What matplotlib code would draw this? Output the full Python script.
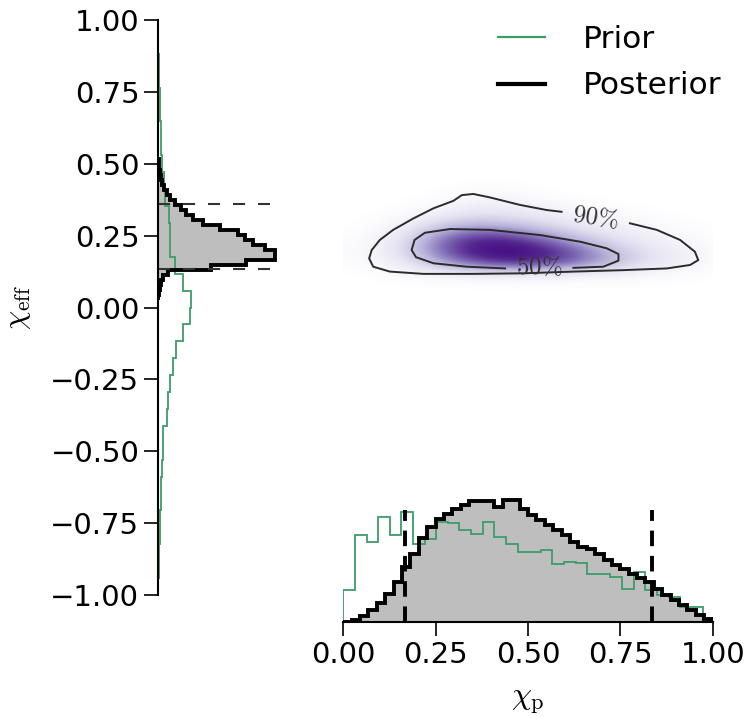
import numpy as np
import matplotlib
matplotlib.use("Agg")
import matplotlib.pyplot as plt
from matplotlib.lines import Line2D
from matplotlib.colors import LinearSegmentedColormap

plt.rcParams["mathtext.fontset"] = "cm"

# ---- chi_p marginal (bottom panel), heights ----
chi_p_post_edges = np.linspace(0.0, 1.0, 45)
chi_p_post = [0.5, 2, 6, 12, 19, 28, 40, 55, 68, 84, 95, 103, 108, 113, 117,
              121, 121, 121, 115, 122, 122, 113, 107, 102, 97, 92, 87, 80,
              75, 73, 68, 62, 57, 53, 48, 44, 40, 33, 27, 22, 17, 12, 7, 3]
chi_p_prior_edges = np.linspace(0.0, 0.975, 32)
chi_p_prior = [32, 87, 80, 105, 87, 110, 78, 83, 100, 99, 92, 88, 100, 85, 78,
               70, 70, 72, 58, 60, 59, 48, 48, 45, 33, 50, 32, 27, 25, 15, 15]
chi_p_bounds = [0.167, 0.835]

# ---- chi_eff marginal (left panel) ----
chi_eff_post_edges = np.linspace(0.025, 0.515, 29)
chi_eff_post = [0.3, 0.8, 1.5, 3, 5, 10, 53, 88, 117, 117, 107, 95, 87, 80,
                62, 45, 35, 28, 23, 17, 12, 9, 6, 4, 3, 2, 1, 0.5]
chi_eff_prior_edges = np.linspace(-1.0, 1.0, 35)
chi_eff_prior = [0.3, 0.5, 1, 1.5, 2, 2.5, 3.3, 3.5, 4.5, 5, 9, 10, 12, 15, 18,
                 25, 32, 33, 25, 17, 12, 11.5, 11, 7, 6, 3.5, 3, 2.5, 2, 1.5,
                 1.2, 0.8, 0.4, 0.2]
chi_eff_bounds = [0.135, 0.36]

# ---- joint density (coarse grid read from the shading) ----
grid_p = np.linspace(0.05, 1.05, 11)
grid_eff = np.linspace(0.08, 0.44, 10)
density = np.array([
    [0.00, 0.00, 0.00, 0.00, 0.00, 0.00, 0.00, 0.00, 0.00, 0.00, 0.00],
    [0.00, 0.04, 0.10, 0.16, 0.18, 0.17, 0.14, 0.10, 0.06, 0.02, 0.00],
    [0.02, 0.14, 0.40, 0.70, 0.85, 0.80, 0.60, 0.35, 0.18, 0.08, 0.00],
    [0.03, 0.18, 0.55, 0.90, 1.00, 0.85, 0.55, 0.30, 0.16, 0.07, 0.00],
    [0.02, 0.15, 0.50, 0.80, 0.78, 0.55, 0.32, 0.18, 0.10, 0.04, 0.00],
    [0.00, 0.08, 0.30, 0.45, 0.40, 0.28, 0.16, 0.10, 0.05, 0.01, 0.00],
    [0.00, 0.02, 0.12, 0.22, 0.20, 0.14, 0.08, 0.04, 0.01, 0.00, 0.00],
    [0.00, 0.00, 0.03, 0.10, 0.10, 0.06, 0.02, 0.00, 0.00, 0.00, 0.00],
    [0.00, 0.00, 0.00, 0.04, 0.04, 0.00, 0.00, 0.00, 0.00, 0.00, 0.00],
    [0.00, 0.00, 0.00, 0.00, 0.00, 0.00, 0.00, 0.00, 0.00, 0.00, 0.00],
])

# credible contours (chi_p, chi_eff), split where the labels sit
c90_p = [0.776, 0.849, 0.912, 0.952, 0.961, 0.939, 0.876, 0.758, 0.623, 0.487,
         0.352, 0.217, 0.126, 0.081, 0.070, 0.077, 0.099, 0.135, 0.190, 0.244,
         0.298, 0.321, 0.352, 0.397, 0.478, 0.551, 0.591]
c90_eff = [0.293, 0.270, 0.235, 0.194, 0.165, 0.148, 0.136, 0.130, 0.125, 0.119,
           0.117, 0.117, 0.125, 0.142, 0.171, 0.200, 0.235, 0.270, 0.310, 0.345,
           0.371, 0.391, 0.395, 0.383, 0.357, 0.339, 0.333]
c50_p = [0.623, 0.704, 0.745, 0.745, 0.713, 0.641, 0.533, 0.397, 0.289, 0.221,
         0.193, 0.185, 0.197, 0.244, 0.334, 0.438]
c50_eff = [0.138, 0.142, 0.163, 0.186, 0.206, 0.229, 0.252, 0.270, 0.273, 0.260,
           0.235, 0.200, 0.175, 0.154, 0.142, 0.136]
labels_90 = (0.684, 0.314)
labels_50 = (0.530, 0.140)

green = "#3c9c68"
grey = "#bebebe"
fs = 21
purples = LinearSegmentedColormap.from_list(
    "wp", ["#ffffff", "#e4e2f1", "#b9b4da", "#7f6bb5", "#54278f", "#3f007d"])


def fmt(v, _):
    return f"{v:.2f}".replace("-", "\u2212")


fig = plt.figure(figsize=(7.5, 7.18), dpi=100)
ax_main = fig.add_axes([0.4577, 0.1713, 0.4925, 0.8008])
ax_left = fig.add_axes([0.2107, 0.1713, 0.1893, 0.8008])
ax_bot = fig.add_axes([0.4577, 0.1337, 0.4925, 0.1978])

# joint panel
dp = grid_p[1] - grid_p[0]
de = grid_eff[1] - grid_eff[0]
ax_main.imshow(density, origin="lower", cmap=purples, aspect="auto",
               interpolation="bicubic", vmin=0, vmax=1,
               extent=[grid_p[0] - dp / 2, grid_p[-1] + dp / 2,
                       grid_eff[0] - de / 2, grid_eff[-1] + de / 2])
ax_main.plot(c90_p, c90_eff, color="#2b2b2b", lw=1.4)
ax_main.plot(c50_p, c50_eff, color="#2b2b2b", lw=1.4)
ax_main.text(*labels_90, r"$90\%$", fontsize=18, color="#333333",
             ha="center", va="center", rotation=-8)
ax_main.text(*labels_50, r"$50\%$", fontsize=18, color="#333333",
             ha="center", va="center")
ax_main.set_xlim(0, 1)
ax_main.set_ylim(-1, 1)
ax_main.axis("off")

# left marginal
ax_left.stairs(chi_eff_post, chi_eff_post_edges, orientation="horizontal",
               fill=True, color=grey)
ax_left.stairs(chi_eff_prior, chi_eff_prior_edges, orientation="horizontal",
               color=green, lw=1.3)
ax_left.stairs(chi_eff_post, chi_eff_post_edges, orientation="horizontal",
               color="black", lw=2.8)
ax_left.hlines(chi_eff_bounds, 0, 112, colors="#333333", lw=1.5,
               linestyles=(0, (5.8, 6.2)))
ax_left.set_ylim(-1, 1)
ax_left.set_xlim(0, 142)
ax_left.set_yticks([-1, -0.75, -0.5, -0.25, 0, 0.25, 0.5, 0.75, 1])
ax_left.yaxis.set_major_formatter(plt.FuncFormatter(fmt))
ax_left.set_xticks([])
ax_left.tick_params(axis="y", labelsize=fs, length=10, width=1.2)
ax_left.set_ylabel(r"$\chi_{\rm eff}$", fontsize=22)
ax_left.yaxis.set_label_coords(-0.88, 0.5)
for s in ["top", "right", "bottom"]:
    ax_left.spines[s].set_visible(False)
ax_left.spines["left"].set_linewidth(1.5)
ax_left.patch.set_alpha(0)

# bottom marginal
ax_bot.stairs(chi_p_post, chi_p_post_edges, fill=True, color=grey)
ax_bot.stairs(chi_p_prior, chi_p_prior_edges, color=green, lw=1.3)
ax_bot.stairs(chi_p_post, chi_p_post_edges, color="black", lw=2.8)
ax_bot.vlines(chi_p_bounds, 0, 112, colors="black", lw=2.8,
              linestyles=(0, (4, 2.5)))
ax_bot.set_xlim(0, 1)
ax_bot.set_ylim(0, 142)
ax_bot.set_xticks([0, 0.25, 0.5, 0.75, 1.0])
ax_bot.xaxis.set_major_formatter(plt.FuncFormatter(fmt))
ax_bot.set_yticks([])
ax_bot.tick_params(axis="x", labelsize=fs, length=10, width=1.2)
ax_bot.set_xlabel(r"$\chi_{\rm p}$", fontsize=23, labelpad=12)
for s in ["top", "right", "left"]:
    ax_bot.spines[s].set_visible(False)
ax_bot.spines["bottom"].set_linewidth(1.5)
ax_bot.patch.set_alpha(0)

handles = [Line2D([], [], color=green, lw=1.6),
           Line2D([], [], color="black", lw=3)]
fig.legend(handles, ["Prior", "Posterior"], loc="upper right",
           bbox_to_anchor=(0.999, 1.004), frameon=False, fontsize=22.5,
           handlelength=1.5, handletextpad=1.2, labelspacing=0.55)

fig.savefig("out.png", dpi=100)
